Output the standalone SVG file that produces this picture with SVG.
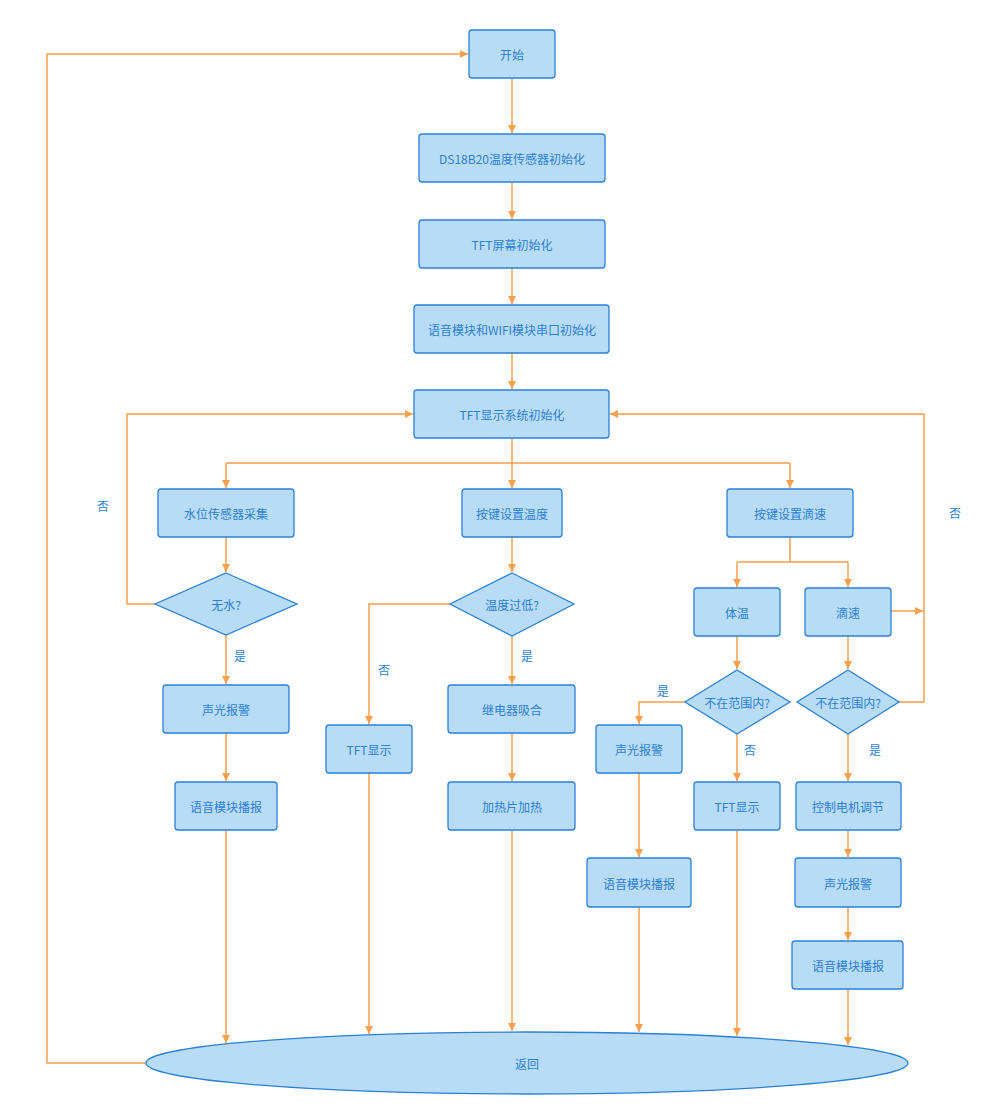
<svg xmlns="http://www.w3.org/2000/svg" width="1008" height="1107" viewBox="0 0 1008 1107">
<defs>
<marker id="arr" markerWidth="10" markerHeight="10" refX="9" refY="5" orient="auto" markerUnits="userSpaceOnUse">
<path d="M1,1 L9,5 L1,9 Z" fill="#f6a04d"/>
</marker>
<style>
.n{fill:#b8dcf5;stroke:#2b80d6;stroke-width:1.3}
.t{font-family:"Noto Sans CJK SC","Noto Sans",sans-serif;font-size:12px;fill:#2b7fd2;text-anchor:middle;dominant-baseline:central}
.c{fill:none;stroke:#f6a04d;stroke-width:1.5}
.a{marker-end:url(#arr)}
</style>
</defs>
<rect width="1008" height="1107" fill="#ffffff"/>
<g id="connectors">
<path class="c a" d="M146,1063 H47 V54 H468"/>
<path class="c a" d="M512,78 V133"/>
<path class="c a" d="M512,182 V219"/>
<path class="c a" d="M512,268 V304"/>
<path class="c a" d="M512,353 V389"/>
<path class="c" d="M512,438 V463 M226,463 H790"/>
<path class="c a" d="M226,463 V488"/>
<path class="c a" d="M512,463 V488"/>
<path class="c a" d="M790,463 V488"/>
<path class="c a" d="M226,537 V572"/>
<path class="c a" d="M512,537 V572"/>
<path class="c a" d="M155,604 H127 V414 H413"/>
<path class="c a" d="M899,702 H924 V414 H610"/>
<path class="c a" d="M891,611 H923"/>
<path class="c" d="M790,537 V562 M737,562 H848"/>
<path class="c a" d="M737,562 V587"/>
<path class="c a" d="M848,562 V587"/>
<path class="c a" d="M737,636 V669"/>
<path class="c a" d="M848,636 V669"/>
<path class="c a" d="M226,635 V684"/>
<path class="c a" d="M450,604 H369 V724"/>
<path class="c a" d="M512,636 V684"/>
<path class="c a" d="M685,702 H639 V724"/>
<path class="c a" d="M737,734 V781"/>
<path class="c a" d="M848,734 V781"/>
<path class="c a" d="M226,733 V781"/>
<path class="c a" d="M512,733 V781"/>
<path class="c a" d="M639,773 V857"/>
<path class="c a" d="M848,830 V857"/>
<path class="c a" d="M848,907 V940"/>
<path class="c a" d="M226,830 V1043"/>
<path class="c a" d="M369,773 V1034"/>
<path class="c a" d="M512,830 V1031"/>
<path class="c a" d="M639,907 V1032"/>
<path class="c a" d="M737,830 V1036"/>
<path class="c a" d="M848,989 V1045"/>
<text class="t" x="103" y="505">否</text>
<text class="t" x="955" y="512">否</text>
<text class="t" x="240" y="655">是</text>
<text class="t" x="527" y="655">是</text>
<text class="t" x="384" y="669">否</text>
<text class="t" x="663" y="690">是</text>
<text class="t" x="750" y="749">否</text>
<text class="t" x="875" y="749">是</text>
</g>
<g id="start"><rect class="n" x="469" y="30" width="86" height="48" rx="3"/><text class="t" x="512" y="54">开始</text></g>
<g id="ds18b20"><rect class="n" x="419" y="134" width="186" height="48" rx="3"/><text class="t" x="512" y="158">DS18B20温度传感器初始化</text></g>
<g id="tftinit"><rect class="n" x="419" y="220" width="186" height="48" rx="3"/><text class="t" x="512" y="244">TFT屏幕初始化</text></g>
<g id="uartinit"><rect class="n" x="414" y="305" width="195" height="48" rx="3"/><text class="t" x="512" y="329">语音模块和WIFI模块串口初始化</text></g>
<g id="sysinit"><rect class="n" x="414" y="390" width="195" height="48" rx="3"/><text class="t" x="512" y="414">TFT显示系统初始化</text></g>
<g id="water"><rect class="n" x="158" y="489" width="136" height="48" rx="3"/><text class="t" x="226" y="513">水位传感器采集</text></g>
<g id="settemp"><rect class="n" x="462" y="489" width="100" height="48" rx="3"/><text class="t" x="512" y="513">按键设置温度</text></g>
<g id="setdrip"><rect class="n" x="727" y="489" width="126" height="48" rx="3"/><text class="t" x="790" y="513">按键设置滴速</text></g>
<g id="nowater"><path class="n" d="M226,573 L297,604 L226,635 L155,604 Z"/><text class="t" x="226" y="604">无水?</text></g>
<g id="templow"><path class="n" d="M512,573 L574,604 L512,636 L450,604 Z"/><text class="t" x="512" y="604">温度过低?</text></g>
<g id="bodytemp"><rect class="n" x="694" y="588" width="86" height="48" rx="3"/><text class="t" x="737" y="612">体温</text></g>
<g id="drip"><rect class="n" x="805" y="588" width="86" height="48" rx="3"/><text class="t" x="848" y="612">滴速</text></g>
<g id="range1"><path class="n" d="M737,670 L790,702 L737,734 L685,702 Z"/><text class="t" x="737" y="702">不在范围内?</text></g>
<g id="range2"><path class="n" d="M848,670 L899,702 L848,734 L797,702 Z"/><text class="t" x="848" y="702">不在范围内?</text></g>
<g id="alarm1"><rect class="n" x="163" y="685" width="126" height="48" rx="3"/><text class="t" x="226" y="709">声光报警</text></g>
<g id="tft1"><rect class="n" x="326" y="725" width="86" height="48" rx="3"/><text class="t" x="369" y="749">TFT显示</text></g>
<g id="relay"><rect class="n" x="448" y="685" width="127" height="48" rx="3"/><text class="t" x="512" y="709">继电器吸合</text></g>
<g id="alarm2"><rect class="n" x="596" y="725" width="86" height="48" rx="3"/><text class="t" x="639" y="749">声光报警</text></g>
<g id="tft2"><rect class="n" x="694" y="782" width="86" height="48" rx="3"/><text class="t" x="737" y="806">TFT显示</text></g>
<g id="motor"><rect class="n" x="796" y="782" width="105" height="48" rx="3"/><text class="t" x="848" y="806">控制电机调节</text></g>
<g id="voice1"><rect class="n" x="175" y="782" width="102" height="48" rx="3"/><text class="t" x="226" y="806">语音模块播报</text></g>
<g id="heat"><rect class="n" x="448" y="782" width="127" height="48" rx="3"/><text class="t" x="512" y="806">加热片加热</text></g>
<g id="voice2"><rect class="n" x="587" y="858" width="104" height="49" rx="3"/><text class="t" x="639" y="883">语音模块播报</text></g>
<g id="alarm3"><rect class="n" x="795" y="858" width="106" height="49" rx="3"/><text class="t" x="848" y="883">声光报警</text></g>
<g id="voice3"><rect class="n" x="792" y="941" width="111" height="48" rx="3"/><text class="t" x="848" y="965">语音模块播报</text></g>
<g id="return"><ellipse class="n" cx="527" cy="1063" rx="381" ry="31"/><text class="t" x="527" y="1063">返回</text></g>
</svg>
